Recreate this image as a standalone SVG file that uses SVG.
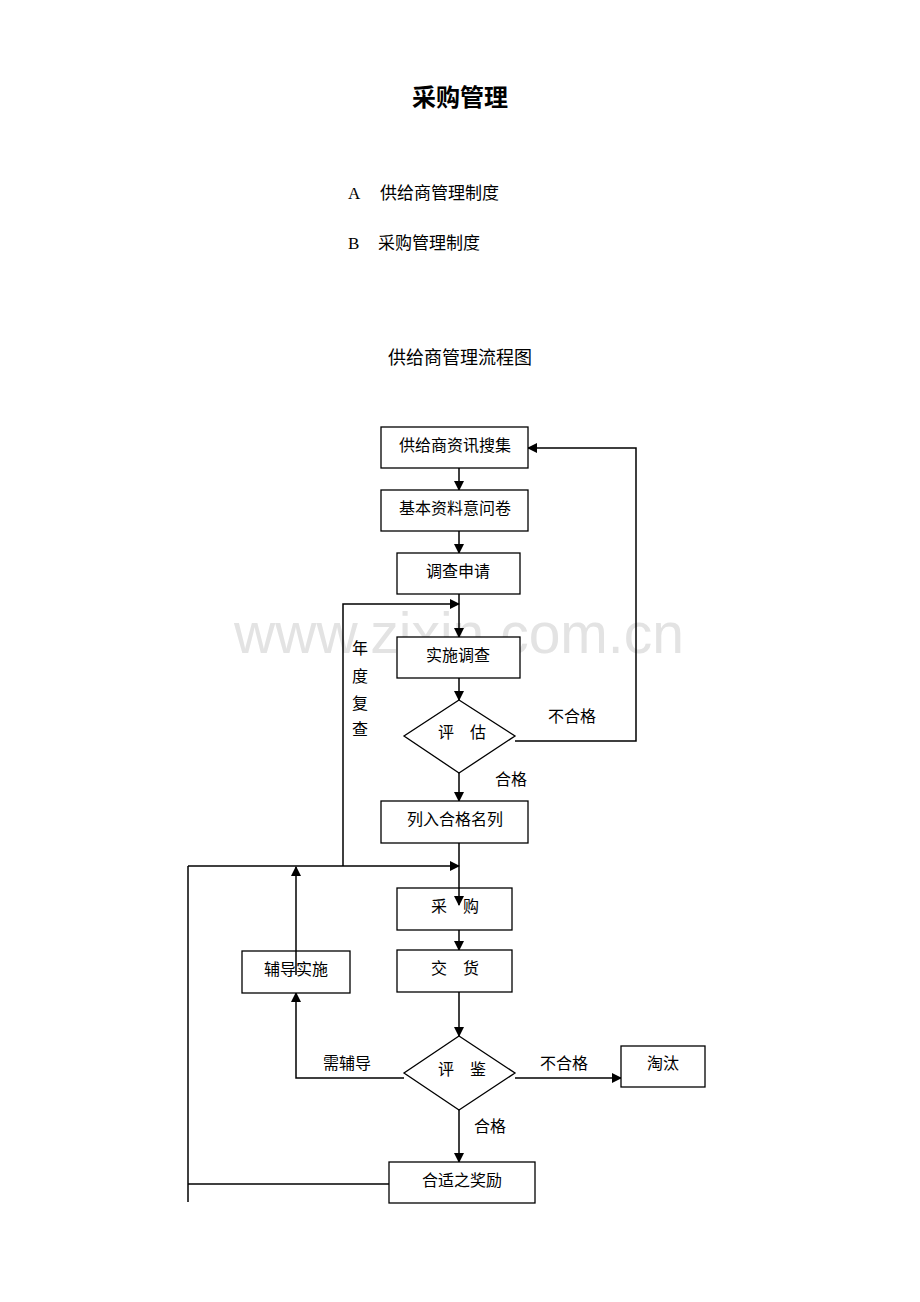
<svg xmlns="http://www.w3.org/2000/svg" width="920" height="1302" viewBox="0 0 920 1302">
<style>
text{font-family:"Liberation Serif","Noto Sans CJK SC",serif;fill:#000}
.s{font-family:"Noto Sans CJK SC",sans-serif}
.w{font-family:"Liberation Sans",sans-serif;fill:#e3e3e3}
.b{fill:#fff;stroke:#000;stroke-width:1.3}
.l{fill:none;stroke:#000;stroke-width:1.5}
.t{font-size:16px;text-anchor:middle}
</style>
<defs><marker id="a" markerWidth="10" markerHeight="10" refX="9" refY="5" orient="auto" markerUnits="userSpaceOnUse"><path d="M0,0 L10,5 L0,10z" fill="#000"/></marker></defs>
<rect width="920" height="1302" fill="#fff"/>
<text x="460" y="106" class="s" font-size="24" font-weight="bold" text-anchor="middle">采购管理</text>
<text x="348" y="199" font-size="17">A</text><text x="380" y="199" class="s" font-size="17">供给商管理制度</text>
<text x="348" y="249" font-size="17">B</text><text x="378" y="249" class="s" font-size="17">采购管理制度</text>
<text x="460" y="364" class="s" font-size="18" text-anchor="middle">供给商管理流程图</text>
<text x="459" y="653" class="w" font-size="57" text-anchor="middle">www.zixin.com.cn</text>
<g id="connectors" class="l">
<line x1="459" y1="468" x2="459" y2="490" marker-end="url(#a)"/>
<line x1="459" y1="531" x2="459" y2="553" marker-end="url(#a)"/>
<line x1="459" y1="594" x2="459" y2="637" marker-end="url(#a)"/>
<line x1="459" y1="678" x2="459" y2="700" marker-end="url(#a)"/>
<line x1="459" y1="773" x2="459" y2="801" marker-end="url(#a)"/>
<polyline points="515,741 636,741 636,448 528,448" marker-end="url(#a)"/>
<polyline points="343,866 343,604 459,604" marker-end="url(#a)"/>
<line x1="188" y1="866" x2="459" y2="866" marker-end="url(#a)"/>
<line x1="459" y1="930" x2="459" y2="950" marker-end="url(#a)"/>
<line x1="459" y1="992" x2="459" y2="1036" marker-end="url(#a)"/>
<line x1="459" y1="1110" x2="459" y2="1162" marker-end="url(#a)"/>
<line x1="515" y1="1078" x2="621" y2="1078" marker-end="url(#a)"/>
<polyline points="404,1078 296,1078 296,993" marker-end="url(#a)"/>
<polyline points="188,866 188,1202"/>
<line x1="188" y1="1184" x2="389" y2="1184"/>
</g>
<g id="n1"><rect class="b" x="381" y="427" width="147" height="41"/><text class="t" x="455" y="451">供给商资讯搜集</text></g>
<g id="n2"><rect class="b" x="381" y="490" width="147" height="41"/><text class="t" x="455" y="514">基本资料意问卷</text></g>
<g id="n3"><rect class="b" x="397" y="553" width="123" height="41"/><text class="t" x="458" y="577">调查申请</text></g>
<g id="n4"><rect class="b" x="397" y="637" width="123" height="41"/><text class="t" x="458" y="661">实施调查</text></g>
<g id="n5"><polygon class="b" points="459,700 515,736 459,773 404,736"/><text class="t" x="462" y="738">评　估</text></g>
<g id="n6"><rect class="b" x="381" y="801" width="147" height="42"/><text class="t" x="455" y="825">列入合格名列</text></g>
<g id="n7"><rect class="b" x="397" y="888" width="115" height="42"/><text class="t" x="455" y="912">采　购</text></g>
<g id="n8"><rect class="b" x="397" y="950" width="115" height="42"/><text class="t" x="455" y="974">交　货</text></g>
<g id="n9"><polygon class="b" points="459,1036 515,1073 459,1110 404,1073"/><text class="t" x="462" y="1075">评　鉴</text></g>
<g id="n10"><rect class="b" x="621" y="1046" width="84" height="41"/><text class="t" x="663" y="1069">淘汰</text></g>
<g id="n11"><rect class="b" x="389" y="1162" width="146" height="41"/><text class="t" x="462" y="1186">合适之奖励</text></g>
<g id="n12"><rect class="b" x="242" y="951" width="108" height="42"/><text class="t" x="296" y="975">辅导实施</text></g>
<g id="connectors-over" class="l">
<line x1="459" y1="843" x2="459" y2="905" marker-end="url(#a)"/>
<line x1="296" y1="975" x2="296" y2="867" marker-end="url(#a)"/>
</g>
<g font-size="16">
<text x="548" y="722">不合格</text>
<text x="495" y="785">合格</text>
<text x="352" y="654">年</text><text x="352" y="682">度</text><text x="352" y="709">复</text><text x="352" y="735">查</text>
<text x="323" y="1069">需辅导</text>
<text x="540" y="1069">不合格</text>
<text x="474" y="1132">合格</text>
</g>
</svg>
